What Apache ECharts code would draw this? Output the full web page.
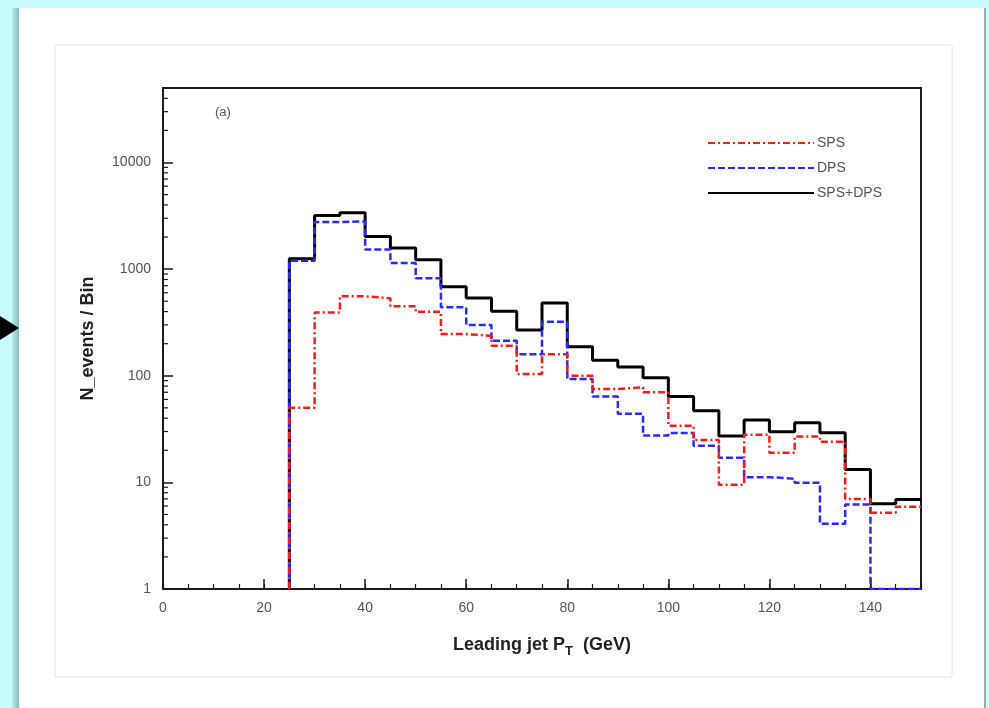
<!DOCTYPE html>
<html>
<head>
<meta charset="utf-8">
<script src="https://cdn.jsdelivr.net/npm/echarts@6/dist/echarts.min.js"></script>
<style>
  html, body { margin: 0; padding: 0; background: #c8fbfc; }
  #chart { width: 989px; height: 708px; }
</style>
</head>
<body>
<div id="chart"></div>
<script>
// Histogram bins of the leading-jet transverse momentum (GeV), 5 GeV wide
const binStarts = [25, 30, 35, 40, 45, 50, 55, 60, 65, 70, 75, 80, 85, 90, 95,
                   100, 105, 110, 115, 120, 125, 130, 135, 140, 145];
const binWidth = 5;

// Events per bin
const spsCounts = [50, 393, 556, 533, 448, 398, 246, 237, 191, 104, 159, 100, 75, 78, 70,
                   34, 25, 9.5, 28, 19, 27, 24, 7, 5.2, 5.9];
const dpsCounts = [1200, 2770, 2800, 1530, 1140, 820, 438, 299, 213, 159, 321, 93, 64, 44, 27.5,
                   29, 22, 17, 11.2, 10.8, 9.9, 4.1, 6.2, 0, 0];
const totalCounts = [1250, 3190, 3380, 2025, 1575, 1222, 685, 536, 402, 268, 481, 187, 140, 121, 96,
                     64, 47, 27.3, 38.4, 29.8, 36.3, 29.2, 13.2, 6.3, 6.9];

const seriesNames = ['SPS', 'DPS', 'SPS+DPS'];

// Axis ranges and tick labels
const xMin = 0, xMax = 150, xMajor = 20, xMinor = 5;
const yMin = 1, yMax = 50000;
const yDecadeLabels = ['1', '10', '100', '1000', '10000'];

// Turn bin contents into a step outline that rises from the axis floor
function histOutline(counts) {
  const pts = [[binStarts[0], yMin]];
  counts.forEach((c, i) => pts.push([binStarts[i], Math.max(c, yMin)]));
  const last = counts.length - 1;
  pts.push([binStarts[last] + binWidth, Math.max(counts[last], yMin)]);
  return pts;
}

// Minor tick positions of the log axis: 2..9 x 10^k
const yMinorTicks = [];
for (let d = 1; d <= 10000; d *= 10) {
  for (let m = 2; m <= 9; m++) {
    const v = m * d;
    if (v <= yMax) yMinorTicks.push([xMin, v]);
  }
}

const labelColor = '#555';
const titleColor = '#222';
const font = 'Liberation Sans, Arial, sans-serif';

const chart = echarts.init(document.getElementById('chart'));

chart.setOption({
  animation: false,
  backgroundColor: 'transparent',
  graphic: [
    // page panel
    { type: 'rect', z: -10, shape: { x: 12, y: 8, width: 8, height: 700 },
      style: { fill: new echarts.graphic.LinearGradient(0, 0, 1, 0, [
        { offset: 0, color: '#b6ecec' }, { offset: 1, color: '#7fb3b3' }]) } },
    { type: 'rect', z: -10, shape: { x: 19, y: 8, width: 966, height: 700 },
      style: { fill: '#ffffff' } },
    { type: 'rect', z: -10, shape: { x: 984, y: 8, width: 2, height: 700 },
      style: { fill: '#9aa' } },
    // figure frame
    { type: 'rect', z: -9, shape: { x: 55, y: 45, width: 897, height: 632 },
      style: { fill: '#ffffff', stroke: '#e4e4e4', lineWidth: 1 } },
    // pointer arrow
    { type: 'polygon', z: 5, shape: { points: [[0, 316], [19, 328], [0, 340]] },
      style: { fill: '#000' } },
    // panel tag
    { type: 'text', left: 215, top: 106,
      style: { text: '(a)', fill: labelColor, font: '13px ' + font } }
  ],
  grid: {
    left: 163, top: 88, width: 758, height: 501,
    show: true, borderColor: '#1a1a1a', borderWidth: 2, backgroundColor: 'transparent'
  },
  legend: {
    orient: 'vertical', left: 702, top: 131,
    itemWidth: 106, itemHeight: 14, itemGap: 11,
    data: seriesNames,
    itemStyle: { opacity: 0 },
    textStyle: { color: labelColor, fontSize: 14, fontFamily: font, padding: [0, 0, 0, -2] }
  },
  xAxis: [
    {
      type: 'value', min: xMin, max: xMax, interval: xMajor,
      name: '{a|Leading jet P}{s|T}{a|  (GeV)}',
      nameLocation: 'middle', nameGap: 44,
      nameTextStyle: {
        rich: {
          a: { fontSize: 18, fontWeight: 'bold', color: titleColor, fontFamily: font },
          s: { fontSize: 13, fontWeight: 'bold', color: titleColor, fontFamily: font, padding: [12, 0, 0, 0] }
        }
      },
      axisLine: { show: true, lineStyle: { color: '#1a1a1a', width: 2 } },
      axisTick: { show: true, inside: true, length: 10, lineStyle: { color: '#1a1a1a', width: 1.5 } },
      axisLabel: { margin: 12, color: labelColor, fontSize: 14, fontFamily: font, showMaxLabel: false },
      splitLine: { show: false }
    },
    {
      type: 'value', min: xMin, max: xMax, interval: xMinor, position: 'bottom',
      axisLine: { show: false },
      axisTick: { show: true, inside: true, length: 5, lineStyle: { color: '#1a1a1a', width: 1.2 } },
      axisLabel: { show: false },
      splitLine: { show: false }
    }
  ],
  yAxis: {
    type: 'log', logBase: 10, min: yMin, max: yMax,
    name: 'N_events / Bin', nameLocation: 'middle', nameGap: 66,
    nameTextStyle: { fontSize: 18, fontWeight: 'bold', color: titleColor, fontFamily: font },
    axisLine: { show: true, lineStyle: { color: '#1a1a1a', width: 2 } },
    axisTick: { show: true, inside: true, length: 10, lineStyle: { color: '#1a1a1a', width: 1.5 } },
    axisLabel: {
      margin: 12, color: labelColor, fontSize: 14, fontFamily: font, showMaxLabel: false,
      formatter: v => {
        const k = Math.round(Math.log10(v));
        return Math.abs(Math.log10(v) - k) < 1e-6 ? yDecadeLabels[k] : '';
      }
    },
    splitLine: { show: false }
  },
  series: [
    {
      name: 'SPS+DPS', type: 'line', step: 'end', symbol: 'none', z: 2,
      data: histOutline(totalCounts),
      lineStyle: { color: '#000000', width: 3, type: 'solid' },
      itemStyle: { color: '#000000' }
    },
    {
      name: 'DPS', type: 'line', step: 'end', symbol: 'none', z: 3,
      data: histOutline(dpsCounts),
      lineStyle: { color: '#2a2aff', width: 2.5, type: [7, 3] },
      itemStyle: { color: '#2a2aff' }
    },
    {
      name: 'SPS', type: 'line', step: 'end', symbol: 'none', z: 4,
      data: histOutline(spsCounts),
      lineStyle: { color: '#ff1a1a', width: 2.5, type: [7, 3, 2, 3] },
      itemStyle: { color: '#ff1a1a' }
    },
    {
      // minor ticks of the logarithmic axis
      type: 'custom', silent: true, z: 5,
      data: yMinorTicks,
      renderItem: (params, api) => {
        const p = api.coord([api.value(0), api.value(1)]);
        return {
          type: 'line',
          shape: { x1: p[0], y1: p[1], x2: p[0] + 5, y2: p[1] },
          style: { stroke: '#1a1a1a', lineWidth: 1.2 }
        };
      }
    }
  ]
});
</script>
</body>
</html>
